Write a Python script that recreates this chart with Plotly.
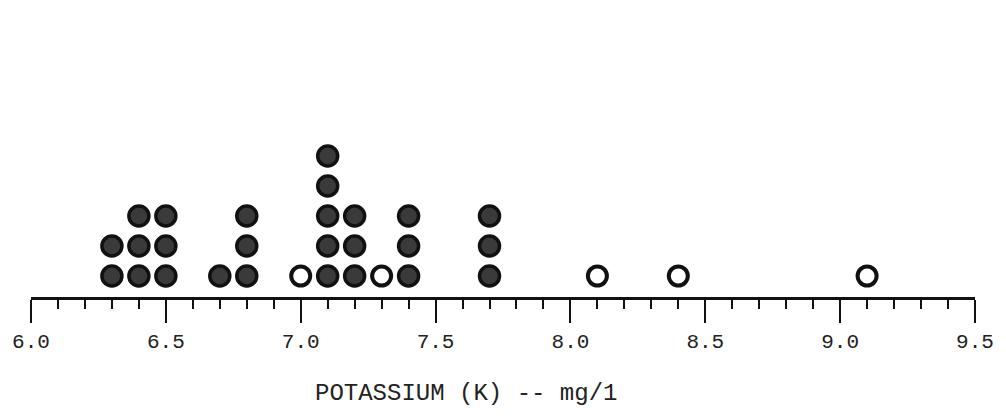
import plotly.graph_objects as go

# Data: potassium value and number of samples at that value
values = [6.3, 6.4, 6.5, 6.7, 6.8, 7.0, 7.1, 7.2, 7.3, 7.4, 7.7, 8.1, 8.4, 9.1]
counts = [2, 3, 3, 1, 3, 1, 5, 3, 1, 3, 3, 1, 1, 1]
tick_values = [6.0, 6.5, 7.0, 7.5, 8.0, 8.5, 9.0, 9.5]
tick_labels = ["6.0", "6.5", "7.0", "7.5", "8.0", "8.5", "9.0", "9.5"]
x_title = "POTASSIUM (K) -- mg/1"

# styling: which stacks were drawn as open rings in the original
open_rings = {7.0, 7.3, 8.1, 8.4, 9.1}

fx, fy, ox, oy = [], [], [], []
for v, c in zip(values, counts):
    for k in range(1, c + 1):
        if v in open_rings:
            ox.append(v); oy.append(k)
        else:
            fx.append(v); fy.append(k)

INK = "#111111"
FONT = "Liberation Mono, Courier New, monospace"

fig = go.Figure()
fig.add_trace(go.Scatter(
    x=fx, y=fy, mode="markers", showlegend=False, hoverinfo="x",
    marker=dict(symbol="circle", size=20, color="#3a3a3a",
                line=dict(color=INK, width=3.5)),
))
fig.add_trace(go.Scatter(
    x=ox, y=oy, mode="markers", showlegend=False, hoverinfo="x",
    marker=dict(symbol="circle", size=19, color="white",
                line=dict(color=INK, width=4)),
))

fig.update_layout(
    width=1006, height=420,
    margin=dict(l=30, r=28, t=100, b=123),
    paper_bgcolor="white", plot_bgcolor="white",
    font=dict(family=FONT, color="#222222", size=20),
    showlegend=False,
)
fig.update_xaxes(
    range=[6.0, 9.5],
    tickmode="array", tickvals=tick_values, ticktext=tick_labels,
    ticks="outside", ticklen=23, tickwidth=2, tickcolor=INK,
    showline=True, linecolor=INK, linewidth=2.5,
    showgrid=False, zeroline=False,
    tickfont=dict(family=FONT, size=21, color="#222222"),
    minor=dict(dtick=0.1, tick0=6.0, ticks="outside", ticklen=9,
               tickwidth=2, tickcolor=INK, showgrid=False),
)
fig.update_yaxes(visible=False, range=[0.3, 6.867])

fig.add_annotation(
    xref="paper", yref="paper", x=0.461, y=-0.49,
    xanchor="center", yanchor="middle", showarrow=False,
    text=x_title, font=dict(family=FONT, size=24, color="#222222"),
)

fig.write_html("out.html")
